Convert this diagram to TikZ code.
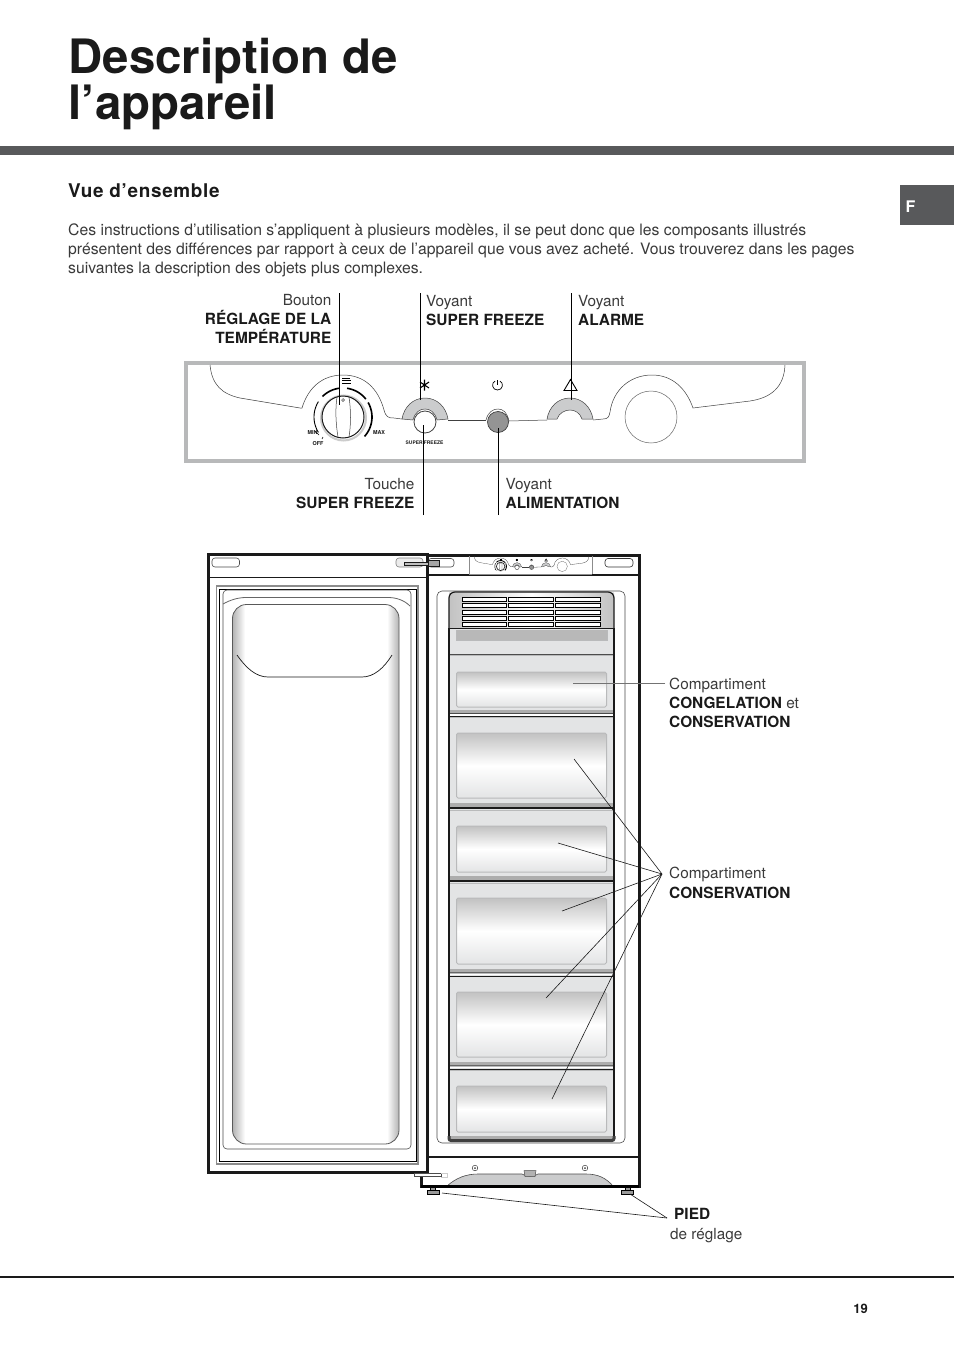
\documentclass[tikz,border=0pt]{standalone}
\usepackage{fontspec}
\setmainfont{TeX Gyre Heros}
\definecolor{bar}{HTML}{58595B}
\definecolor{txtc}{HTML}{3A3A3A}
\definecolor{ink}{HTML}{1A1A1A}
\definecolor{pgrey}{HTML}{B8B9BA}
\definecolor{dfill}{HTML}{E3E4E5}
\definecolor{dedge}{HTML}{B9BABB}
\definecolor{band}{HTML}{CBCCCD}
\newcommand{\lwk}{1}
\tikzset{
  lab/.style={inner sep=0pt,anchor=base west,text=txtc,font=\fontsize{15.3}{15}\selectfont},
  para/.style={inner sep=0pt,anchor=base west,text=txtc,font=\fontsize{15.72}{15}\selectfont},
  labr/.style={inner sep=0pt,anchor=base east,text=txtc,font=\fontsize{15.3}{15}\selectfont},
  blab/.style={inner sep=0pt,anchor=base west,text=ink,font=\fontsize{15.4}{15}\selectfont\bfseries},
  blabr/.style={inner sep=0pt,anchor=base east,text=ink,font=\fontsize{15.4}{15}\selectfont\bfseries},
  tiny/.style={inner sep=0pt,anchor=center,text=ink,font=\fontsize{5.4}{5}\selectfont\bfseries},
  titre/.style={inner sep=0pt,anchor=base west,text=ink,font=\fontsize{47.4}{47}\selectfont\bfseries},
  leader/.style={draw=ink,line width=.6pt},
  vleader/.style={draw=black,line width=.9pt},
  pline/.style={draw=black!75,line width=\lwk*.5pt},
  drawerbody/.style={fill=dfill,draw=dedge,line width=1pt},
  drawerhandle/.style={draw=dedge,line width=1pt,rounded corners=1.5pt,top color=black!24,bottom color=dfill,middle color=white},
  slat/.style={draw=black,fill=white,line width=.8pt},
  sepk/.style={draw=ink,line width=2pt},
  footp/.style={fill=black!40,draw=black,line width=.6pt},
}
\newcommand{\panelart}{%
  \draw[pline] (210,365) .. controls (212,385) and (222,394) .. (240,398) -- (300,408)
    -- (302,408) .. controls (308,388) and (322,375) .. (343,375)
    .. controls (364,375) and (378,388) .. (384,410) .. controls (386,417) and (388,418) .. (394,418) -- (402,419);
  \draw[pline] (448,420) -- (486,420);
  \draw[pline] (509,421) -- (547,420);
  \draw[pline] (593,420) -- (603,419) .. controls (608,419) and (609,417) .. (610,412)
    .. controls (613,390) and (630,375) .. (652,375) .. controls (672,375) and (686,388) .. (693,408)
    -- (750,401) .. controls (770,398) and (784,388) .. (785,365);
  \draw[pline,draw=black!60] (651,417) circle[radius=26pt];
  \draw[pline,fill=band] (402,419) .. controls (404,407) and (413,398) .. (425,398)
     .. controls (437,398) and (446,407) .. (448,419) -- (437,420)
     .. controls (435,412) and (430,409) .. (425,409) .. controls (420,409) and (415,412) .. (413,420) -- cycle;
  \draw[pline,line width=\lwk*.8pt,fill=white] (425,422) circle[radius=11pt];
  \draw[pline,fill=band] (547,419) .. controls (549,407) and (558,398) .. (570,398)
     .. controls (582,398) and (591,407) .. (593,419) -- (582,419)
     .. controls (580,413) and (575,410) .. (570,410) .. controls (565,410) and (559,413) .. (557,419) -- cycle;
  \draw[pline] (486,420) .. controls (488,412) and (493,409) .. (498,409) .. controls (503,409) and (507,412) .. (509,421);
  \draw[line width=\lwk*.7pt,draw=black!75,fill=black!42] (498,422) circle[radius=10.5pt];
  \draw[draw=black!20,line width=\lwk*2pt] (343.5,418) circle[radius=22.5pt];
  \draw[line width=\lwk*1pt,draw=black!90,fill=white] (343,417) circle[radius=21pt];
  \draw[pline] (337,397) .. controls (335,410) and (336,425) .. (338,437);
  \draw[pline] (349,397) .. controls (351,410) and (351,425) .. (349,437);
  \draw[pline] (343,400) circle[radius=1.4pt];
  \draw[line width=\lwk*.9pt,domain=148:212,samples=16,smooth,variable=\t] plot ({343+29*cos(\t)},{417-29*sin(\t)});
  \draw[line width=\lwk*1.6pt,domain=98:135,samples=10,smooth,variable=\t] plot ({343+29*cos(\t)},{417-29*sin(\t)});
  \draw[line width=\lwk*1.6pt,domain=38:82,samples=10,smooth,variable=\t] plot ({343+29*cos(\t)},{417-29*sin(\t)});
  \draw[line width=\lwk*1.6pt,domain=-42:30,samples=14,smooth,variable=\t] plot ({343+29*cos(\t)},{417-29*sin(\t)});
  \draw[line width=\lwk*.6pt] (315,431) -- (319,435) (322,439) -- (323,437);
  \draw[line width=\lwk*.35pt] (342,378) -- (350,378) (342,380) -- (351,380) (342,383) -- (351,383);
  \draw[line width=\lwk*.7pt] (495,381) .. controls (491,383) and (492,390) .. (497.5,390) .. controls (503,390) and (504,383) .. (500,381);
  \draw[line width=\lwk*.7pt] (497.5,380) -- (497.5,385);
  \draw[line width=\lwk*1.1pt] (424.5,379.5) -- (424.5,390.5) (420,382) -- (429,388) (420,388) -- (429,382);
  \draw[line width=\lwk*.9pt] (570.5,379.5) -- (577,390.5) -- (564,390.5) -- cycle;
}
\begin{document}
\begin{tikzpicture}[x=1pt,y=-1pt]
\useasboundingbox (0,0) rectangle (954,1351);
\fill[white] (0,0) rectangle (954,1351);
% header
\node[titre] (t1) at (68.5,74) {Description de};
\node[titre] (t2) at (68.5,120) {l’appareil};
\fill[bar] (0,146) rectangle (954,155);
\fill[bar] (900,185) rectangle (954,225);
\node[inner sep=0pt,anchor=base west,text=white,font=\fontsize{16}{16}\selectfont\bfseries] (tab) at (905.5,212) {F};
\node[inner sep=0pt,anchor=base west,text=ink,font=\fontsize{18.9}{18}\selectfont\bfseries\addfontfeature{LetterSpace=3.6}] (h) at (68,197) {Vue d’ensemble};
\node[para] (p1) at (68,235) {Ces instructions d’utilisation s’appliquent à plusieurs modèles, il se peut donc que les composants illustrés};
\node[para] (p2) at (68,254) {présentent des différences par rapport à ceux de l’appareil que vous avez acheté. Vous trouverez dans les pages};
\node[para] (p3) at (68,273) {suivantes la description des objets plus complexes.};
% control panel
\draw[draw=pgrey,line width=4pt] (186,363) rectangle (804,461);
\panelart
\node[tiny] (pmin) at (312.5,433) {MIN};
\node[tiny] (poff) at (318,444) {OFF};
\node[tiny] (pmax) at (379,433) {MAX};
\node[tiny,font=\fontsize{4.9}{5}\selectfont\bfseries] (psf) at (424.5,442.5) {SUPER FREEZE};
% panel labels
\node[labr] (b1) at (331.5,305) {Bouton};
\node[blabr] (b2) at (331.5,324) {RÉGLAGE DE LA};
\node[blabr] (b3) at (331.5,343) {TEMPÉRATURE};
\node[lab] (v1) at (426,306) {Voyant};
\node[blab] (v2) at (426,325) {SUPER FREEZE};
\node[lab] (a1) at (578,306) {Voyant};
\node[blab] (a2) at (578,325) {ALARME};
\node[labr] (c1) at (414.5,489) {Touche};
\node[blabr] (c2) at (414.5,508) {SUPER FREEZE};
\node[lab] (d1) at (505.5,489) {Voyant};
\node[blab] (d2) at (505.5,508) {ALIMENTATION};
\coordinate (k1) at (339.5,293); \coordinate (k2) at (339.5,405);
\coordinate (s1) at (420.5,293); \coordinate (s2) at (420.5,400);
\coordinate (w1) at (571.5,293); \coordinate (w2) at (571.5,400);
\coordinate (u1) at (423.5,515); \coordinate (u2) at (423.5,425);
\coordinate (e1) at (498.5,515); \coordinate (e2) at (498.5,428);
\draw[vleader] (k1) -- (k2);
\draw[vleader] (s1) -- (s2);
\draw[vleader] (w1) -- (w2);
\draw[vleader] (u1) -- (u2);
\draw[vleader] (e1) -- (e2);
% cabinet
\draw[draw=black!70,line width=.6pt,rounded corners=5pt] (437,591) rectangle (625,1143);
\draw[ink,line width=1.2pt] (428,575) -- (639,575);
\draw[ink,line width=1.2pt] (428,1157) -- (639,1157);
\draw[ink,line width=3pt] (428,555) -- (639,555) -- (639,1186) -- (421,1186) -- (421,1172);
\draw[ink,line width=1.5pt] (428.5,555) -- (428.5,1172);
% mini panel
\draw[draw=black!45,line width=.5pt] (469,556) -- (469,574) (592,556) -- (592,574);
\draw[white,line width=1pt] (469,574.6) -- (592,574.6);
\draw[draw=black!45,line width=.6pt] (469,574.5) -- (592,574.5);
\begin{scope}[shift={(432,483)},scale=.2]
\renewcommand{\lwk}{.55}
\panelart
\end{scope}
\draw[draw=black!80,line width=.6pt,rounded corners=3pt] (605,558.5) rectangle (633,567);
\draw[draw=black!70,line width=.6pt,rounded corners=3pt] (428,558.5) rectangle (454,567);
% freezer stack
\path[fill=dfill] (449,592) rectangle (614,1141);
\path[left color=black!24,right color=black!24,middle color=white] (449,593) rectangle (614,628);
\draw[ink,line width=1.2pt,rounded corners=6pt] (449,628) -- (449,592) -- (614,592) -- (614,628);
\foreach \xa/\xb in {462/506,508/553,555/600}{
  \foreach \ya/\yb in {597.3/601.7,603.7/607.7,610/614.3,616.3/620.7,622.7/626.7}{
    \draw[slat] (\xa,\ya) rectangle (\xb,\yb);
  }
}
\draw[ink,line width=1.8pt] (449,628.5) -- (614,628.5);
\fill[black!28] (456,630) rectangle (607,640);
\draw[dedge,line width=1pt] (456,630) -- (456,640) -- (607,640) -- (607,630);
% drawers
\foreach \ya/\yb in {655/714,717/807,810/880,883/973,976/1066,1070/1140}{
  \draw[drawerbody] (449.5,\ya) rectangle (613.5,\yb);
  \fill[black!32] (450,\yb-4) rectangle (613,\yb);
}
\foreach \ya/\yb in {672/707,733/798,826/872,898/964,992/1057,1086/1132}{
  \draw[drawerhandle] (456.5,\ya) rectangle (606.5,\yb);
}
\draw[black!70,line width=1.6pt] (449,654.5) -- (614,654.5);
\draw[black!70,line width=1pt] (449,713.5) -- (614,713.5);
\draw[white,line width=1.5pt] (449,715) -- (614,715);
\draw[ink,line width=1pt] (449,716.5) -- (614,716.5);
\draw[sepk,line width=2.6pt] (449,808) -- (614,808);
\draw[sepk,line width=2.6pt] (449,881) -- (614,881);
\draw[black!60,line width=1.2pt] (449,972.5) -- (614,972.5);
\draw[white,line width=1.5pt] (449,974.3) -- (614,974.3);
\draw[ink,line width=1pt] (449,976) -- (614,976);
\draw[black!60,line width=1.2pt] (449,1065.5) -- (614,1065.5);
\draw[white,line width=1.5pt] (449,1067.5) -- (614,1067.5);
\draw[ink,line width=1pt] (449,1069.5) -- (614,1069.5);
\draw[ink,line width=2.6pt] (449,628) -- (449,1139);
\draw[ink,line width=2.6pt] (614,628) -- (614,1139);
\draw[black!75,line width=3pt,rounded corners=2pt] (449,1136) -- (449,1140.5) -- (614,1140.5) -- (614,1136);
% plinth
\draw[draw=black!70,fill=band,line width=.6pt] (447,1186) .. controls (456,1178) and (466,1174) .. (478,1174) -- (522,1174)
  .. controls (526,1177) and (534,1177) .. (538,1174) -- (586,1174) .. controls (598,1174) and (606,1178) .. (613,1186) -- cycle;
\draw[draw=black!70,fill=black!30,line width=.5pt] (524,1170.5) -- (536,1170.5) -- (535,1176.5) -- (525,1176.5) -- cycle;
\foreach \x in {475,585}{ \draw[draw=black!75,line width=.5pt] (\x,1168) circle[radius=2.8pt]; \fill[black!75] (\x,1168) circle[radius=1pt]; }
\draw[black,line width=3pt] (421,1186) -- (639,1186);
% feet
\foreach \x in {433,627.5}{
  \draw[footp] (\x-2.5,1187.5) rectangle (\x+2.5,1190);
  \draw[footp] (\x-6,1190) rectangle (\x+6,1194);
}
% door
\draw[draw=white,fill=white] (208,554) rectangle (427,1172);
\draw[ink,line width=3pt] (208,1172) -- (208,554.5) -- (427,554.5) -- (427,1172) -- cycle;
\draw[ink,line width=1pt] (208,577) -- (427,577);
\draw[draw=black!70,line width=.6pt,rounded corners=3pt] (212,558) rectangle (239.5,567);
\draw[draw=black!50,fill=black!8,line width=.6pt,rounded corners=3pt] (396,558) rectangle (423,567);
\draw[draw=black!45,line width=1.3pt] (216.5,586) rectangle (418,1164);
\draw[black,line width=.9pt] (219.5,589.5) -- (416,589.5) -- (416,1161.5) -- (219.5,1161.5) -- cycle;
\draw[draw=black!70,line width=.6pt,rounded corners=4pt] (223,590) rectangle (411,1149);
\draw[draw=black!60,line width=.8pt] (223,604) .. controls (230,600) and (238,597.5) .. (246,597.5) -- (388,597.5) .. controls (396,597.5) and (404,600) .. (410,606);
% door liner
\begin{scope}
\clip[rounded corners=14pt] (232.5,604.5) rectangle (399,1144);
\shade[left color=black!30,right color=white] (232.5,604) rectangle (245,1144);
\shade[left color=white,right color=black!30] (387,604) rectangle (399,1144);
\end{scope}
\draw[draw=black!65,line width=.8pt,rounded corners=14pt] (232.5,604.5) rectangle (399,1144);
\draw[ink,line width=.7pt] (237,655) .. controls (246,668) and (256,677) .. (268,677) -- (362,677) .. controls (374,677) and (384,668) .. (392,655);
% hinges
\fill[black!35] (428,560) rectangle (439,566);
\draw[ink,line width=.7pt] (428,560) rectangle (439,566);
\draw[ink,line width=.8pt,fill=black!25] (404,562) rectangle (428,565);
\draw[draw=black!70,fill=white,line width=.6pt] (414,1173) rectangle (441,1176);
\draw[draw=black!20,line width=.6pt] (441,1173) -- (447.5,1173) -- (447.5,1177) -- (441,1177);
% compartment labels
\node[lab] (l1) at (669,689) {Compartiment};
\node[blab] (l2) at (669,708) {CONGELATION \textmd{\textcolor{txtc}{et}}};
\node[blab] (l3) at (669,727) {CONSERVATION};
\node[lab] (m1) at (669,878) {Compartiment};
\node[blab] (m2) at (669,898) {CONSERVATION};
\node[blab] (n1) at (674,1219) {PIED};
\node[lab] (n2) at (670,1239) {de réglage};
\coordinate (fa) at (665,683.5); \coordinate (fb) at (573,683.5);
\draw[draw=black!55,line width=.6pt] (fa) -- (fb);
\coordinate (hub) at (662,874);
\coordinate (z1) at (574,759); \coordinate (z2) at (558,843); \coordinate (z3) at (562,911);
\coordinate (z4) at (546,998); \coordinate (z5) at (552,1099);
\foreach \z in {z1,z2,z3,z4,z5}{ \draw[leader] (hub) -- (\z); }
\coordinate (phub) at (667,1218); \coordinate (pa) at (442,1193); \coordinate (pb) at (630,1194);
\draw[leader] (phub) -- (pa);
\draw[leader] (phub) -- (pb);
% footer
\draw[ink,line width=2pt] (0,1277) -- (954,1277);
\node[inner sep=0pt,anchor=base east,text=ink,font=\fontsize{13}{13}\selectfont\bfseries] (pg) at (868,1313) {19};
\end{tikzpicture}
\end{document}
